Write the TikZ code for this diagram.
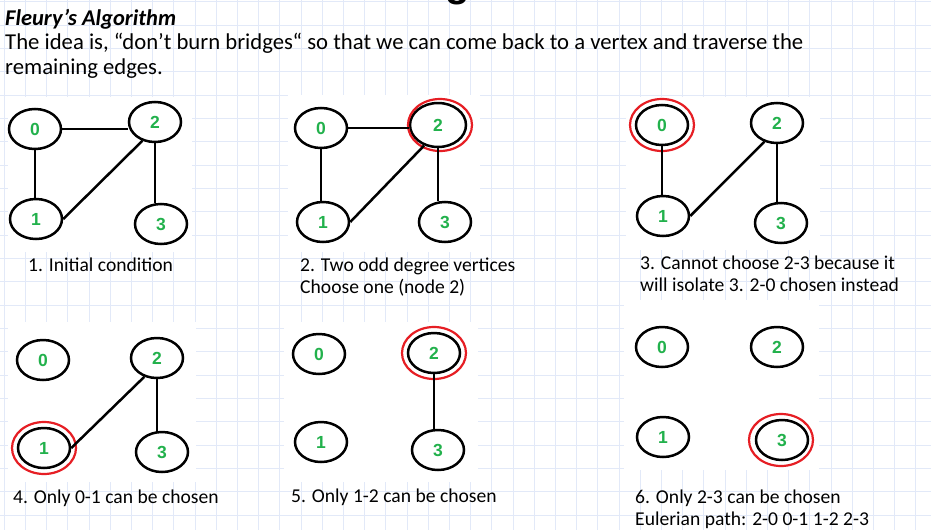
\documentclass[tikz,border=0pt]{standalone}
\usepackage{fontspec}
\setmainfont{Carlito}
\newfontfamily\labfont{Liberation Sans}
\usetikzlibrary{shapes.geometric}
\definecolor{gridc}{RGB}{226,233,248}
\definecolor{labgreen}{RGB}{34,177,76}
\definecolor{ringred}{RGB}{230,30,36}
\tikzset{
  vert/.style={ellipse,draw=black,line width=2.5pt,minimum width=52pt,minimum height=40pt,inner sep=0pt,
    font=\labfont\bfseries\fontsize{17.5}{17.5}\selectfont,text=labgreen},
  ringsty/.style={ellipse,draw=ringred,line width=2.2pt,minimum width=64pt,minimum height=52pt,inner sep=0pt},
  conn/.style={line width=2.5pt,black},
  captxt/.style={anchor=base west,inner sep=0pt,font=\fontsize{19.6}{22}\selectfont},
  headtxt/.style={anchor=base west,inner sep=0pt,font=\fontsize{22.7}{26}\selectfont},
  patchsty/.style={fill=white,draw=none}
}
\begin{document}
\begin{tikzpicture}[x=1pt,y=-1pt]
\useasboundingbox (0,0) rectangle (931,530);
\begin{scope}
\clip (0,0) rectangle (931,530);
\fill[white] (0,0) rectangle (931,530);
% grid
\foreach \i in {0,...,44} {\draw[gridc,line width=0.8pt] ({491.7-23*21.2+\i*21.2},0) -- ({491.7-23*21.2+\i*21.2},530);}
\foreach \j in {0,...,23} {\draw[gridc,line width=0.8pt] (0,{95-4*23.33+\j*23.33}) -- (931,{95-4*23.33+\j*23.33});}
% white image patches
\fill[patchsty] (8,97) rectangle (192,252);
\fill[patchsty] (288,95) rectangle (480,252);
\fill[patchsty] (626,97) rectangle (820,250);
\fill[patchsty] (8,322) rectangle (196,482);
\fill[patchsty] (284,322) rectangle (478,482);
\fill[patchsty] (624,300) rectangle (819,470);
% partial title letter (cut off at the top edge, as in the reference)
\node[anchor=base,inner sep=0pt,font=\labfont\bfseries\fontsize{40}{40}\selectfont] (gtop) at (458,-4) {g};
\end{scope}

% header text
\node[headtxt,font=\bfseries\itshape\fontsize{22.5}{26}\selectfont] (title) at (5,25) {Fleury’s Algorithm};
\node[headtxt] (line1) at (5,49) {The idea is, “don’t burn bridges“ so that we can come back to a vertex and traverse the};
\node[headtxt] (line2) at (5,74) {remaining edges.};

% graph 1
\node[vert] (a0) at (35,129) {0};
\node[vert] (a2) at (155,122) {2};
\node[vert] (a1) at (36,219) {1};
\node[vert] (a3) at (161,224) {3};
\draw[conn] (a0.east) -- (a0.east -| a2.west);
\draw[conn] (a0.south) -- (a0.south |- a1.north);
\draw[conn] (a1.east) -- (a2.236);
\draw[conn] (a2.south) -- (a2.south |- a3.north);

% graph 2
\node[vert] (b0) at (321,128) {0};
\node[vert,minimum width=56pt,minimum height=44pt] (b2) at (438,125) {2};
\node[vert] (b1) at (323,222) {1};
\node[vert] (b3) at (445,222) {3};
\node[ringsty] (b2r) at (440,125) {};
\draw[conn] (b0.east) -- (b0.east -| b2.west);
\draw[conn] (b0.south) -- (b0.south |- b1.north);
\draw[conn] (b1.east) -- (b2.236);
\draw[conn] (b2.south) -- (b2.south |- b3.north);

% graph 3
\node[vert] (c0) at (662,125) {0};
\node[ringsty] (c0r) at (662,125) {};
\node[vert] (c2) at (777,123) {2};
\node[vert] (c1) at (663,216) {1};
\node[vert] (c3) at (781,223) {3};
\draw[conn] (c0.south) -- (c0.south |- c1.north);
\draw[conn] (c1.east) -- (c2.236);
\draw[conn] (c2.south) -- (c2.south |- c3.north);

% graph 4
\node[vert] (d0) at (43,360) {0};
\node[vert] (d2) at (157,358) {2};
\node[vert] (d1) at (44,448) {1};
\node[ringsty] (d1r) at (44,448) {};
\node[vert] (d3) at (162,452) {3};
\draw[conn] (d1.east) -- (d2.236);
\draw[conn] (d2.south) -- (d2.south |- d3.north);

% graph 5
\node[vert] (e0) at (319,354) {0};
\node[vert] (e2) at (434,353) {2};
\node[ringsty] (e2r) at (434,353) {};
\node[vert] (e1) at (321,442) {1};
\node[vert] (e3) at (438,450) {3};
\draw[conn] (e2.south) -- (e2.south |- e3.north);

% graph 6
\node[vert] (f0) at (662,347) {0};
\node[vert] (f2) at (777,347) {2};
\node[vert] (f1) at (663,437) {1};
\node[vert] (f3) at (782,440) {3};
\node[ringsty] (f3r) at (781,440) {};

% captions
\node[captxt] (cap1) at (28,271) {1. Initial condition};
\node[captxt] (cap2a) at (300,271) {2. Two odd degree vertices};
\node[captxt] (cap2b) at (300,293) {Choose one (node 2)};
\node[captxt] (cap3a) at (640,269) {3. Cannot choose 2-3 because it};
\node[captxt] (cap3b) at (640,291) {will isolate 3. 2-0 chosen instead};
\node[captxt] (cap4) at (13,503) {4. Only 0-1 can be chosen};
\node[captxt] (cap5) at (291,502) {5. Only 1-2 can be chosen};
\node[captxt] (cap6a) at (635,503) {6. Only 2-3 can be chosen};
\node[captxt] (cap6b) at (635,525) {Eulerian path: 2-0 0-1 1-2 2-3};
\end{tikzpicture}
\end{document}
